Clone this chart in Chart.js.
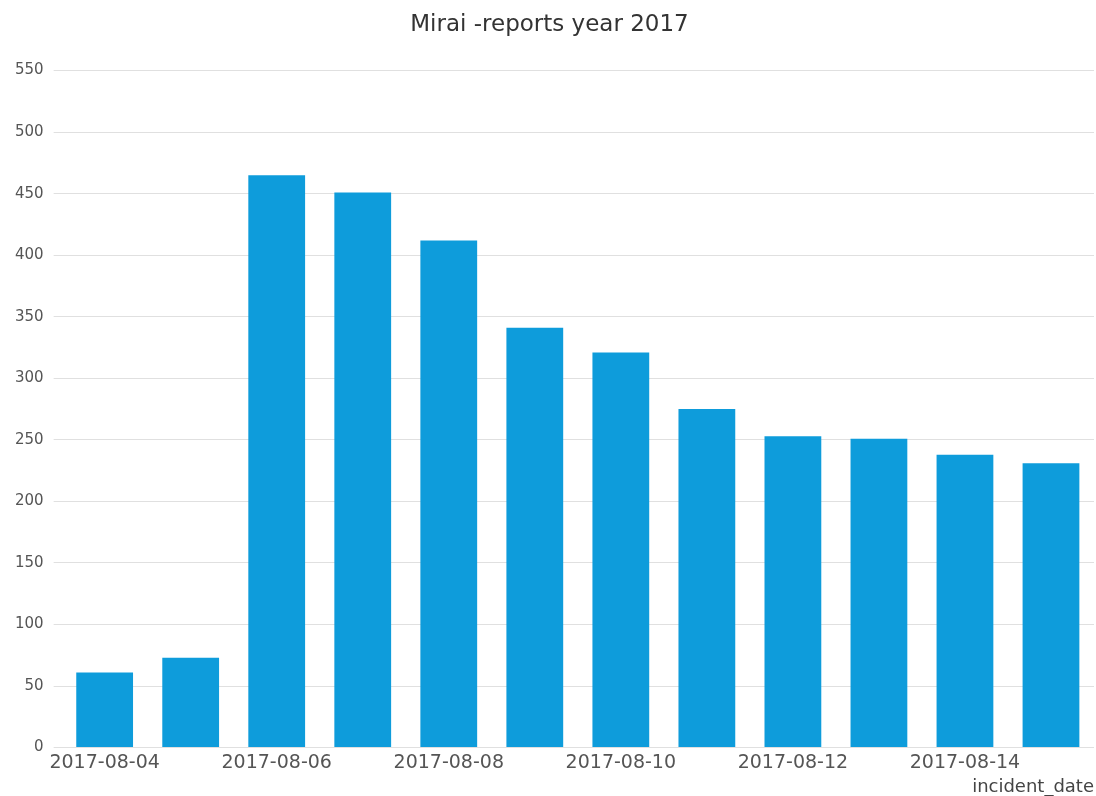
<!DOCTYPE html>
<html>
<head>
<meta charset="utf-8">
<script src="https://cdn.jsdelivr.net/npm/chart.js@4.4.1/dist/chart.umd.min.js"></script>
<style>
  html, body { margin: 0; padding: 0; background: #fff; }
  #wrap { width: 1096px; height: 796px; }
</style>
</head>
<body>
<div id="wrap"><canvas id="miraiChart"></canvas></div>
<script>
// * data laporan mirai
const dates = [
  "2017-08-04", "2017-08-05", "2017-08-06", "2017-08-07",
  "2017-08-08", "2017-08-09", "2017-08-10", "2017-08-11",
  "2017-08-12", "2017-08-13", "2017-08-14", "2017-08-15",
];
const reports = [61, 73, 465, 451, 412, 341, 321, 275, 253, 251, 238, 231];
const yTicks = [0, 50, 100, 150, 200, 250, 300, 350, 400, 450, 500, 550];
const barColor = "#0e9cdb";

const ctx = document.getElementById("miraiChart").getContext("2d");
const miraiChart = new Chart(ctx, {
  type: "bar",
  data: {
    labels: dates,
    datasets: [
      {
        data: reports,
        backgroundColor: barColor,
        borderWidth: 0,
        categoryPercentage: 1,
        barPercentage: 0.66,
      },
    ],
  },
  options: {
    responsive: true,
    maintainAspectRatio: false,
    animation: false,
    layout: { padding: { left: 5, right: 2, top: 6, bottom: 0 } },
    plugins: {
      legend: { display: false },
      tooltip: { enabled: false },
      title: {
        display: true,
        text: "Mirai -reports year 2017",
        color: "#333",
        font: { family: "DejaVu Sans", size: 23, weight: "normal" },
        padding: { top: 5, bottom: 32 },
      },
    },
    scales: {
      x: {
        border: { display: false },
        grid: { display: false, tickLength: 0 },
        ticks: {
          autoSkip: false,
          maxRotation: 0,
          color: "#555",
          padding: 4,
          font: { family: "DejaVu Sans", size: 19 },
          // ? tampilkan tiap 2 hari saja
          callback: (val, i) => (i % 2 === 0 ? dates[i] : ""),
        },
        title: {
          display: true,
          text: "incident_date",
          align: "end",
          color: "#444",
          font: { family: "DejaVu Sans", size: 18 },
          padding: { top: -2, bottom: -2 },
        },
      },
      y: {
        min: 0,
        max: yTicks[yTicks.length - 1],
        border: { display: false },
        grid: {
          color: "#e0e0e0",
          tickLength: 8,
        },
        ticks: {
          stepSize: yTicks[1] - yTicks[0],
          color: "#555",
          padding: 10,
          font: { family: "DejaVu Sans", size: 15 },
        },
      },
    },
  },
});
</script>
</body>
</html>
